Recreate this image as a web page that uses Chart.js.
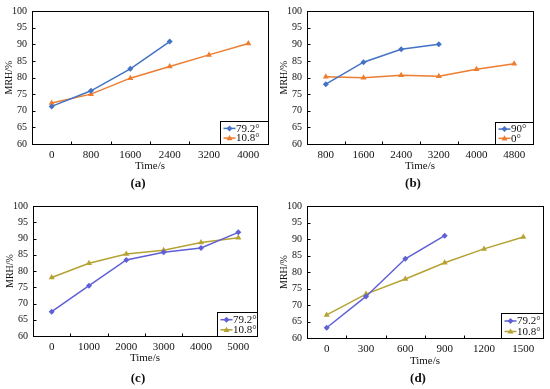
<!DOCTYPE html>
<html>
<head>
<meta charset="utf-8">
<script src="https://cdn.jsdelivr.net/npm/chart.js@4/dist/chart.umd.min.js"></script>
<style>
  body { margin: 0; background: #fff; width: 550px; height: 389px; position: relative; overflow: hidden; font-family: "Liberation Serif", serif; }
  canvas { position: absolute; }
  .tag { position: absolute; width: 100px; text-align: center; font-size: 13px; font-weight: bold; line-height: 16px; color: #111; }
</style>
</head>
<body>
<canvas id="ca" width="275" height="195" style="left:0;top:0"></canvas>
<canvas id="cb" width="275" height="195" style="left:275px;top:0"></canvas>
<canvas id="cc" width="275" height="194" style="left:0;top:195px"></canvas>
<canvas id="cd" width="275" height="194" style="left:275px;top:195px"></canvas>
<div class="tag" style="left:88px;top:175px">(a)</div>
<div class="tag" style="left:363px;top:175px">(b)</div>
<div class="tag" style="left:88px;top:370px">(c)</div>
<div class="tag" style="left:368px;top:370px">(d)</div>
<script>
const timeA = ['0', '800', '1600', '2400', '3200', '4000']
const mrhA1 = [71.3, 76.0, 82.6, 90.8]
const mrhA2 = [72.3, 75.0, 79.8, 83.3, 86.8, 90.2]

const timeB = ['800', '1600', '2400', '3200', '4000', '4800']
const mrhB1 = [78.0, 84.6, 88.5, 90.0]
const mrhB2 = [80.2, 79.9, 80.7, 80.4, 82.5, 84.1]

const timeC = ['0', '1000', '2000', '3000', '4000', '5000']
const mrhC1 = [67.5, 75.5, 83.4, 85.8, 87.1, 91.9]
const mrhC2 = [78.0, 82.4, 85.2, 86.4, 88.8, 90.2]

const timeD = ['0', '300', '600', '900', '1200', '1500']
const mrhD1 = [63.1, 72.6, 84.0, 91.0]
const mrhD2 = [67.0, 73.3, 77.9, 82.8, 87.0, 90.6]

const namesAngle = ['79.2°', '10.8°']
const namesB = ['90°', '0°']
const yMin = 60, yMax = 100, yStep = 5

const FONT = '"Liberation Serif", "Times New Roman", serif'
const office = ['#4472C4', '#ED7D31']
const muted = ['#5F5FD6', '#B5A232']

function marker(ctx, style, x, y, r, color) {
  ctx.fillStyle = color
  ctx.beginPath()
  if (style === 'rectRot') {
    ctx.moveTo(x, y - r); ctx.lineTo(x + r, y); ctx.lineTo(x, y + r); ctx.lineTo(x - r, y)
  } else {
    ctx.moveTo(x, y - r); ctx.lineTo(x + r, y + r * 0.7); ctx.lineTo(x - r, y + r * 0.7)
  }
  ctx.closePath()
  ctx.fill()
}

// box around plot, inward ticks, legend box in bottom-right corner
const frame = {
  id: 'frame',
  afterDraw(chart, args, opts) {
    const {ctx, chartArea: a, scales} = chart
    ctx.save()
    ctx.strokeStyle = '#000'
    ctx.lineWidth = 1
    const L = Math.round(a.left) + 0.5, R = Math.round(a.right) + 0.5
    const T = Math.round(a.top) + 0.5, B = Math.round(a.bottom) + 0.5
    ctx.strokeRect(L, T, R - L, B - T)
    ctx.beginPath()
    scales.y.ticks.forEach(t => {
      if (t.value <= yMin || t.value >= yMax) return
      const y = Math.round(scales.y.getPixelForValue(t.value)) + 0.5
      ctx.moveTo(L, y); ctx.lineTo(L + 3, y)
    })
    const n = chart.data.labels.length
    for (let i = 1; i < n; i++) {
      const x = Math.round((scales.x.getPixelForValue(i - 1) + scales.x.getPixelForValue(i)) / 2) + 0.5
      ctx.moveTo(x, B); ctx.lineTo(x, B - 3)
    }
    ctx.stroke()

    const w = opts.w, h = opts.h
    const bx = R - w, by = B - h
    ctx.fillStyle = '#fff'
    ctx.fillRect(bx, by, w, h)
    ctx.strokeRect(bx, by, w, h)
    ctx.font = '11px ' + FONT
    ctx.textBaseline = 'middle'
    chart.data.datasets.forEach((ds, i) => {
      const y = by + h * (i === 0 ? 0.3 : 0.72)
      ctx.strokeStyle = ds.borderColor
      ctx.lineWidth = 1.5
      ctx.beginPath(); ctx.moveTo(bx + 3, y); ctx.lineTo(bx + 15, y); ctx.stroke()
      marker(ctx, ds.pointStyle, bx + 9, y, 3, ds.borderColor)
      ctx.fillStyle = '#111'
      ctx.fillText(ds.label, bx + 15.5, y + 0.5)
    })
    ctx.restore()
  }
}

function panel(id, labels, s1, s2, names, colors, box) {
  const cv = document.getElementById(id)
  const W = cv.width, H = cv.height
  const xBottom = box.titleY + 6
  const padLeft = box.yTitleX - 6
  const tickFont = {family: FONT, size: 10}
  const xFont = {family: FONT, size: 11}
  new Chart(cv, {
    type: 'line',
    data: {
      labels,
      datasets: [
        {label: names[0], data: s1, borderColor: colors[0], backgroundColor: colors[0], borderWidth: 1.5,
         pointStyle: 'rectRot', pointRadius: 3, pointBorderWidth: 0},
        {label: names[1], data: s2, borderColor: colors[1], backgroundColor: colors[1], borderWidth: 1.5,
         pointStyle: 'triangle', pointRadius: 3.5, pointBorderWidth: 0}
      ]
    },
    options: {
      responsive: false,
      animation: false,
      layout: {padding: {left: padLeft, top: box.t, right: W - box.r, bottom: H - xBottom}},
      plugins: {
        legend: {display: false},
        tooltip: {enabled: false},
        frame: {w: box.lw, h: box.lh}
      },
      scales: {
        x: {
          offset: true,
          grid: {display: false, drawTicks: false, tickLength: 0},
          border: {display: false},
          ticks: {color: '#111', font: xFont, padding: 5, maxRotation: 0},
          title: {display: true, text: 'Time/s', color: '#111', font: xFont, padding: 0},
          afterFit: s => { s.height = xBottom - box.b }
        },
        y: {
          min: yMin, max: yMax,
          grid: {display: false, drawTicks: false, tickLength: 0},
          border: {display: false},
          ticks: {stepSize: yStep, color: '#111', font: tickFont, padding: 5},
          title: {display: true, text: 'MRH/%', color: '#111', font: tickFont, padding: 0},
          afterFit: s => { s.width = box.l - padLeft }
        }
      }
    },
    plugins: [frame]
  })
}

panel('ca', timeA, mrhA1, mrhA2, namesAngle, office,
  {l: 32, r: 268, t: 9, b: 144, titleY: 167, yTitleX: 9, lw: 48, lh: 23})
panel('cb', timeB, mrhB1, mrhB2, namesB, office,
  {l: 32, r: 258, t: 10, b: 144, titleY: 167, yTitleX: 9, lw: 38, lh: 22})
panel('cc', timeC, mrhC1, mrhC2, namesAngle, muted,
  {l: 33, r: 257, t: 7, b: 141, titleY: 164, yTitleX: 10, lw: 40, lh: 24})
panel('cd', timeD, mrhD1, mrhD2, namesAngle, muted,
  {l: 32, r: 268, t: 5, b: 143, titleY: 167, yTitleX: 9, lw: 42, lh: 25})
</script>
</body>
</html>
